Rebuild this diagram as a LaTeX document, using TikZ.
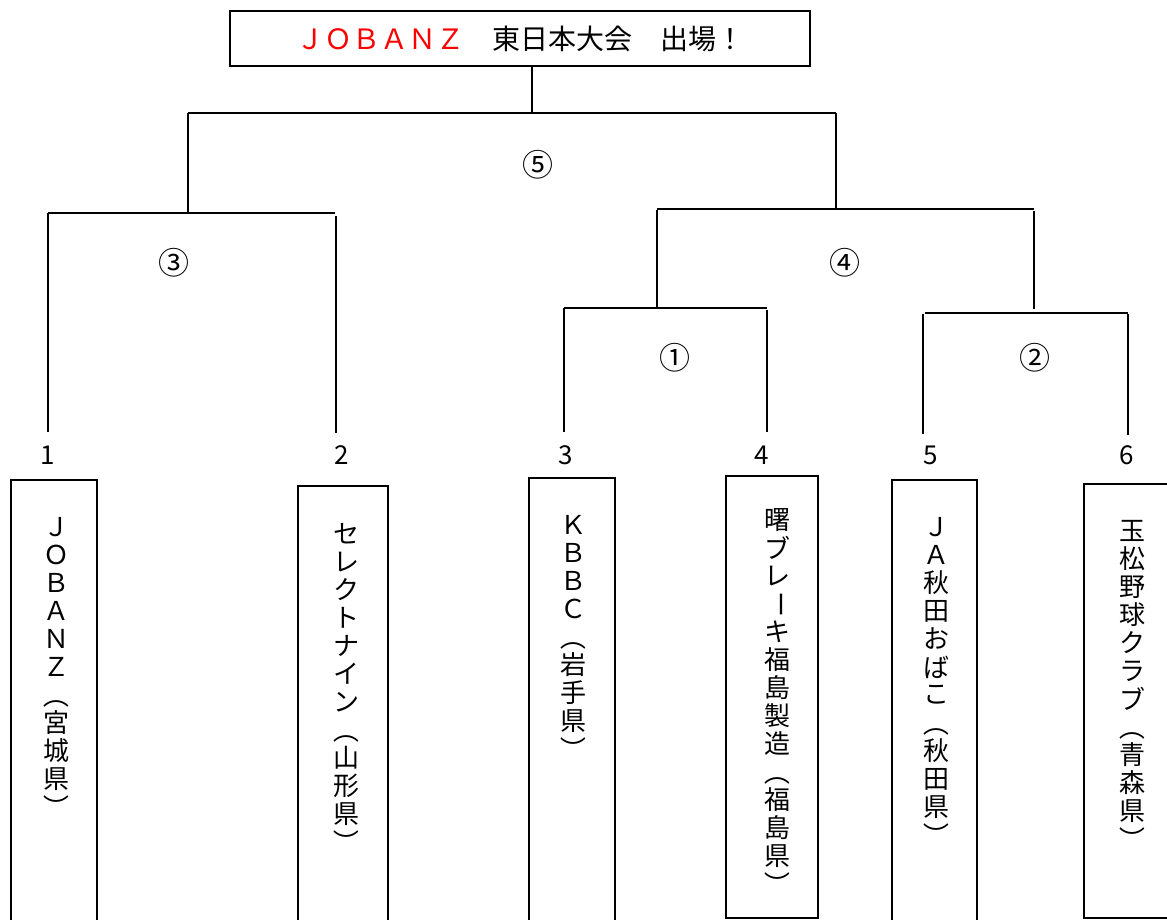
\documentclass[tikz,border=0pt]{standalone}
\usepackage{fontspec}
\usepackage{graphicx}
\newfontfamily\jp{Noto Sans CJK JP}
\usetikzlibrary{positioning}

\newcommand{\pl}{\rotatebox{-90}{（}}
\newcommand{\pr}{\rotatebox{-90}{）}}
\newcommand{\bo}{\rotatebox{-90}{ー}}

\tikzset{
  bracket/.style={line width=1.6pt},
  team/.style={rectangle, draw, line width=1.6pt, anchor=north, minimum width=#1},
  seed/.style={font=\jp\fontsize{26}{26}\selectfont},
  game/.style={font=\jp\fontsize{31}{31}\selectfont},
  vchar/.style={font=\jp\fontsize{26}{26}\selectfont, inner sep=0pt},
}

\newcommand{\vcol}[3]{%
  \foreach \c [count=\i from 0] in {#3} {
    \node [vchar] at ({#1},{#2+28*\i}) {\c};
  }%
}

\begin{document}
\begin{tikzpicture}[x=1pt, y=-1pt]

\useasboundingbox (0,0) rectangle (1167,919);
\clip (0,0) rectangle (1167,919);

\draw (520,38.5) node (title) [rectangle, draw, line width=1.6pt, minimum width=580pt, minimum height=55pt] {};
\draw (title) node [font=\jp\fontsize{28}{28}\selectfont] {{\color{red}ＪＯＢＡＮＺ}　東日本大会　出場！};

\draw [bracket] ([xshift=12pt]title.south) -- (532,113) coordinate (f);
\draw [bracket] (188,113) coordinate (fL) -- (836,113) coordinate (fR);
\draw [bracket] (fL) -- (188,212);
\draw [bracket] (fR) -- (836,210);
\draw (538,165) node (g5) [game] {⑤};

\draw [bracket] (48,213) coordinate (sL) -- (335,213);
\draw [bracket] (sL) -- (48,432) coordinate (t1);
\draw [bracket] (336,216) -- (336,433) coordinate (t2);
\draw (174,263) node (g3) [game] {③};

\draw [bracket] (657,209) -- (1034,209);
\draw [bracket] (657,210) -- (657,308);
\draw [bracket] (1034,211) -- (1034,309);
\draw (845,263) node (g4) [game] {④};

\draw [bracket] (564,308) coordinate (aL) -- (767,308);
\draw [bracket] (aL) -- (564,432) coordinate (t3);
\draw [bracket] (767,310) -- (767,432) coordinate (t4);
\draw (675,358) node (g1) [game] {①};

\draw [bracket] (925,313) -- (1128,313);
\draw [bracket] (923,314) -- (923,434) coordinate (t5);
\draw [bracket] (1128,314) -- (1128,435) coordinate (t6);
\draw (1035,358) node (g2) [game] {②};

\draw (48,455) node (n1) [seed] {1};
\draw (342,455) node (n2) [seed] {2};
\draw (566,455) node (n3) [seed] {3};
\draw (762,455) node (n4) [seed] {4};
\draw (931,455) node (n5) [seed] {5};
\draw (1127,455) node (n6) [seed] {6};

\node (team1) [team=86pt, minimum height=451pt] at (54,479) {};
\node (team2) [team=90pt, minimum height=445pt] at (343,485) {};
\node (team3) [team=86pt, minimum height=453pt] at (572,477) {};
\node (team4) [team=92pt, minimum height=442pt] at (772,475) {};
\node (team5) [team=85pt, minimum height=451pt] at (934.5,479) {};
\node (team6) [team=88pt, minimum height=434pt] at (1128,483) {};

\vcol{56}{527}{Ｊ,Ｏ,Ｂ,Ａ,Ｎ,Ｚ,\pl,宮,城,県,\pr}
\vcol{346}{534}{セ,レ,ク,ト,ナ,イ,ン,\pl,山,形,県,\pr}
\vcol{573}{525}{Ｋ,Ｂ,Ｂ,Ｃ,\pl,岩,手,県,\pr}
\vcol{777}{520}{曙,ブ,レ,\bo,キ,福,島,製,造,\pl,福,島,県,\pr}
\vcol{936}{527}{Ｊ,Ａ,秋,田,お,ば,こ,\pl,秋,田,県,\pr}
\vcol{1132}{531}{玉,松,野,球,ク,ラ,ブ,\pl,青,森,県,\pr}

\end{tikzpicture}
\end{document}
